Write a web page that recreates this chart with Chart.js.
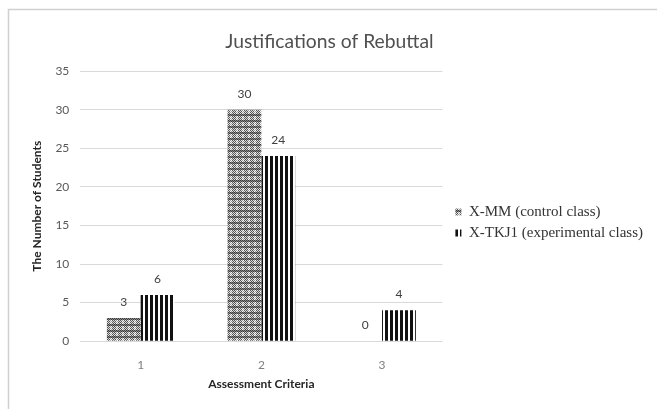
<!DOCTYPE html>
<html>
<head>
<meta charset="utf-8">
<script src="https://cdn.jsdelivr.net/npm/chart.js@4/dist/chart.umd.min.js"></script>
<style>
  html, body { margin: 0; padding: 0; background: #ffffff; }
  #wrap { width: 657px; height: 409px; position: relative; }
</style>
</head>
<body>
<div id="wrap"><canvas id="chart" width="657" height="409"></canvas></div>
<script>
// Chart data
const categories = ['1', '2', '3'];
const controlClass = [3, 30, 0];      // X-MM (control class)
const experimentalClass = [6, 24, 4]; // X-TKJ1 (experimental class)
const seriesNames = ['X-MM (control class)', 'X-TKJ1 (experimental class)'];
const yTicks = [0, 5, 10, 15, 20, 25, 30, 35];

// Grey woven fill for the control class bars
function weavePattern(ctx) {
  const c = document.createElement('canvas');
  const n = 12;
  c.width = n; c.height = n;
  const g = c.getContext('2d');
  for (let y = 0; y < n; y++) {
    for (let x = 0; x < n; x++) {
      const checker = (x + y) % 2 === 0;
      const lightBand = (x % 6 === 2 || x % 6 === 3);
      const darkBand = (y % 6 === 0 || y % 6 === 1);
      let col;
      if (darkBand) col = checker ? '#3a3a3a' : '#8a8a8a';
      else if (lightBand) col = checker ? '#9c9c9c' : '#f8f8f8';
      else col = checker ? '#555555' : '#dcdcdc';
      g.fillStyle = col;
      g.fillRect(x, y, 1, 1);
    }
  }
  return ctx.createPattern(c, 'repeat');
}

// Black vertical stripes for the experimental class bars
function stripePattern(ctx) {
  const c = document.createElement('canvas');
  c.width = 5; c.height = 4;
  const g = c.getContext('2d');
  g.fillStyle = '#ffffff';
  g.fillRect(0, 0, 5, 4);
  g.fillStyle = '#111111';
  g.fillRect(0, 0, 3, 4);
  return ctx.createPattern(c, 'repeat');
}

const canvas = document.getElementById('chart');
const ctx = canvas.getContext('2d');

const textFont = "Lato, 'Liberation Sans', sans-serif";

// Thin frame along the top and left of the chart
const framePlugin = {
  id: 'frame',
  beforeDraw(chart) {
    const c = chart.ctx;
    c.save();
    c.fillStyle = '#ffffff';
    c.fillRect(0, 0, chart.width, chart.height);
    c.strokeStyle = '#d0d0d0';
    c.lineWidth = 1.5;
    c.beginPath();
    c.moveTo(8.5, chart.height);
    c.lineTo(8.5, 9.5);
    c.lineTo(chart.width, 9.5);
    c.stroke();
    c.restore();
  }
};

// Value labels above each bar
const valueLabels = {
  id: 'valueLabels',
  afterDatasetsDraw(chart) {
    const c = chart.ctx;
    c.save();
    c.font = "12px " + textFont;
    c.fillStyle = '#404040';
    c.textAlign = 'center';
    c.textBaseline = 'middle';
    chart.data.datasets.forEach((ds, i) => {
      const meta = chart.getDatasetMeta(i);
      meta.data.forEach((bar, j) => {
        c.fillText(String(ds.data[j]), bar.x, bar.y - 16);
      });
    });
    c.restore();
  }
};

new Chart(ctx, {
  type: 'bar',
  data: {
    labels: categories,
    datasets: [
      {
        label: seriesNames[0],
        data: controlClass,
        backgroundColor: weavePattern(ctx),
        borderWidth: 0
      },
      {
        label: seriesNames[1],
        data: experimentalClass,
        backgroundColor: stripePattern(ctx),
        borderWidth: 0
      }
    ]
  },
  options: {
    responsive: false,
    animation: false,
    devicePixelRatio: 1,
    layout: { padding: { left: 6, right: 4, top: 22, bottom: -14 } },
    datasets: { bar: { categoryPercentage: 0.56, barPercentage: 1.0 } },
    plugins: {
      title: {
        display: true,
        text: 'Justifications of Rebuttal',
        color: '#505050',
        font: { family: textFont, size: 19.3, weight: 'normal' },
        padding: { top: 8, bottom: 18 }
      },
      legend: {
        position: 'right',
        align: 'center',
        maxWidth: 260,
        labels: {
          boxWidth: 6,
          boxHeight: 7,
          padding: 6,
          color: '#333333',
          font: { family: "'Liberation Serif', 'Times New Roman', serif", size: 15 }
        }
      },
      tooltip: { enabled: false }
    },
    scales: {
      x: {
        grid: { display: false },
        border: { display: false },
        ticks: {
          color: '#7f7f7f',
          font: { family: textFont, size: 12 },
          padding: 9
        },
        title: {
          display: true,
          text: 'Assessment Criteria',
          color: '#262626',
          font: { family: textFont, size: 12, weight: 'bold' },
          padding: { top: -5, bottom: 32 }
        }
      },
      y: {
        min: 0,
        max: 35,
        afterBuildTicks(axis) { axis.ticks = yTicks.map(v => ({ value: v })); },
        grid: { color: '#d9d9d9', drawTicks: false, lineWidth: 1 },
        border: { display: false },
        ticks: {
          color: '#595959',
          font: { family: textFont, size: 12 },
          padding: 11
        },
        title: {
          display: true,
          text: 'The Number of Students',
          color: '#262626',
          font: { family: textFont, size: 12, weight: 'bold' },
          padding: { top: 24, bottom: 0 }
        }
      },
      // Blank strip between the plot and the legend
      gap: {
        type: 'linear',
        position: 'right',
        display: true,
        grid: { display: false },
        border: { display: false },
        ticks: { display: false },
        afterFit(axis) { axis.width = 7; }
      }
    }
  },
  plugins: [framePlugin, valueLabels]
});
</script>
</body>
</html>
